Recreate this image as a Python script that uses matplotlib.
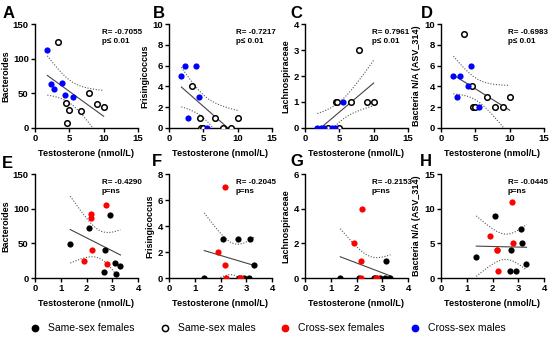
import numpy as np
import matplotlib
matplotlib.use("Agg")
import matplotlib.pyplot as plt

plt.rcParams['font.family'] = ['Liberation Sans', 'DejaVu Sans']

# males (panels A-D)
cross_m_x = [1.8, 2.4, 2.8, 4.0, 4.4, 5.5]
same_m_x = [3.3, 4.5, 4.6, 5.0, 6.7, 7.9, 9.1, 10.0]
# females (panels E-H)
same_f_x = [1.37, 2.10, 2.67, 2.72, 2.93, 3.10, 3.14, 3.32]
cross_f_x = [1.90, 2.16, 2.18, 2.21, 2.75, 2.78]

bact_cm = [113, 64, 56, 65, 48, 45]
bact_sm = [124, 36, 7, 26, 25, 50, 35, 31]
fris_cm = [5, 6, 1, 6, 3, 0]
fris_sm = [4, 1, 0, 0, 1, 0, 0, 1]
lach_cm = [0, 0, 0, 0, 0, 1]
lach_sm = [0, 1, 1, 0, 1, 3, 1, 1]
asv_cm = [5, 3, 5, 4, 6, 2]
asv_sm = [9, 4, 2, 2, 3, 2, 2, 3]

bact_sf = [49, 72, 8, 40, 91, 21, 6, 17]
bact_cf = [25, 93, 86, 40, 106, 20]
fris_sf = [0, 3, 3, 0, 0, 0, 3, 1]
fris_cf = [2, 7, 1, 0, 0, 0]
lach_sf = [0, 0, 0, 0, 0, 0, 1, 0]
lach_cf = [2, 0, 1, 4, 0, 0]
asv_sf = [3, 9, 1, 4, 1, 7, 5, 2]
asv_cf = [6, 4, 4, 1, 11, 5]

letters = ['A', 'B', 'C', 'D', 'E', 'F', 'G', 'H']
ylabels = ['Bacteroides', 'Frisingicoccus', 'Lachnospiraceae', 'Bacteria N/A (ASV_314)'] * 2
stats = ['R= -0.7055\np\u2264 0.01', 'R= -0.7217\np\u2264 0.01', 'R= 0.7961\np\u2264 0.01',
         'R= -0.6983\np\u2264 0.01', 'R= -0.4290\np=ns', 'R= -0.2045\np=ns',
         'R= -0.2153\np=ns', 'R= -0.0445\np=ns']
ymax = [150, 10, 4, 10, 150, 8, 6, 15]
ystep = [50, 2, 1, 2, 50, 2, 2, 5]
legend_labels = ['Same-sex females', 'Same-sex males', 'Cross-sex females', 'Cross-sex males']

W, H = 550, 338
fig = plt.figure(figsize=(W / 100, H / 100), dpi=100)

col_x0 = [35, 169, 305, 441]
row_top = [24, 174]
aw, ah = 103, 104
letter_x = [3, 153, 290, 421, 2, 152, 290, 420]
letter_y = [14, 14, 14, 14, 163, 162, 162, 162]

panels = [
    (cross_m_x, bact_cm, same_m_x, bact_sm),
    (cross_m_x, fris_cm, same_m_x, fris_sm),
    (cross_m_x, lach_cm, same_m_x, lach_sm),
    (cross_m_x, asv_cm, same_m_x, asv_sm),
    (same_f_x, bact_sf, cross_f_x, bact_cf),
    (same_f_x, fris_sf, cross_f_x, fris_cf),
    (same_f_x, lach_sf, cross_f_x, lach_cf),
    (same_f_x, asv_sf, cross_f_x, asv_cf),
]

for i, (x1, y1, x2, y2) in enumerate(panels):
    r, c = divmod(i, 4)
    x0 = col_x0[c]
    top = row_top[r]
    ax = fig.add_axes([x0 / W, 1 - (top + ah) / H, aw / W, ah / H])

    # regression line + 95% confidence band
    xs = np.array(list(x1) + list(x2), dtype=float)
    ys = np.array(list(y1) + list(y2), dtype=float)
    n = len(xs)
    b, a = np.polyfit(xs, ys, 1)
    xx = np.linspace(xs.min(), xs.max(), 60)
    yy = a + b * xx
    resid = ys - (a + b * xs)
    s = np.sqrt(np.sum(resid ** 2) / (n - 2))
    sxx = np.sum((xs - xs.mean()) ** 2)
    half = 2.179 * s * np.sqrt(1 / n + (xx - xs.mean()) ** 2 / sxx)
    ax.plot(xx, yy, color='#444444', lw=0.8, zorder=2)
    ax.plot(xx, yy + half, color='#555555', lw=0.8, ls=(0, (1, 1.5)), zorder=2)
    ax.plot(xx, yy - half, color='#555555', lw=0.8, ls=(0, (1, 1.5)), zorder=2)

    if r == 0:
        ax.scatter(x2, y2, s=16, facecolor='white', edgecolor='black', linewidth=1.1, zorder=3)
        ax.scatter(x1, y1, s=20, color='#0000ff', linewidth=0, zorder=4)
        ax.set_xlim(0, 15)
        ax.set_xticks([0, 5, 10, 15])
    else:
        ax.scatter(x1, y1, s=20, color='black', linewidth=0, zorder=3)
        ax.scatter(x2, y2, s=20, color='#ff0000', linewidth=0, zorder=4)
        ax.set_xlim(0, 4)
        ax.set_xticks([0, 1, 2, 3, 4])

    ax.set_ylim(0, ymax[i])
    ax.set_yticks(np.arange(0, ymax[i] + 0.1, ystep[i]))
    for sp in ['top', 'right']:
        ax.spines[sp].set_visible(False)
    for sp in ['left', 'bottom']:
        ax.spines[sp].set_linewidth(1.0)
    ax.tick_params(length=3, width=1.0, labelsize=6.8, pad=1.5)
    for lab in ax.get_xticklabels() + ax.get_yticklabels():
        lab.set_fontweight('bold')
    ax.set_xlabel('Testosterone (nmol/L)', fontsize=6.6, fontweight='bold', labelpad=4)
    ax.set_ylabel(ylabels[i], fontsize=6.5, fontweight='bold', labelpad=2)
    ax.text(0.65, 0.95, stats[i], transform=ax.transAxes, fontsize=5.8,
            fontweight='bold', va='top', linespacing=1.35)
    fig.text(letter_x[i] / W, 1 - letter_y[i] / H, letters[i], fontsize=12,
             fontweight='bold', va='center', ha='left')

# legend strip
lx = [35, 165, 285, 415]
ly = 328
styles = [('black', 'black'), ('white', 'black'), ('#ff0000', '#ff0000'), ('#0000ff', '#0000ff')]
leg = fig.add_axes([0, 0, 1, 1], facecolor='none')
leg.set_xlim(0, W)
leg.set_ylim(H, 0)
leg.axis('off')
for k in range(4):
    fc, ec = styles[k]
    leg.scatter([lx[k]], [ly], s=20, facecolor=fc, edgecolor=ec, linewidth=1.1)
    leg.text(lx[k] + 13, ly, legend_labels[k], fontsize=7.5, va='center', ha='left')

fig.savefig('out.png', dpi=100)
